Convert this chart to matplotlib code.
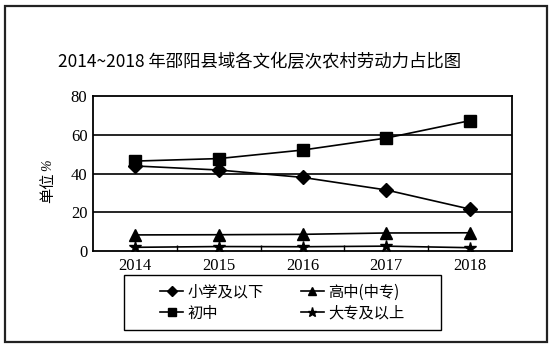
import matplotlib.pyplot as plt
from matplotlib.patches import Rectangle

plt.rcParams["font.family"] = ["Noto Sans CJK SC", "DejaVu Sans"]

years = ["2014", "2015", "2016", "2017", "2018"]
primary = [43.9, 41.8, 38.0, 31.5, 21.6]      # 小学及以下
junior = [46.4, 47.7, 52.1, 58.3, 67.3]       # 初中
senior = [8.3, 8.4, 8.6, 9.3, 9.4]            # 高中(中专)
college = [1.9, 2.3, 2.2, 2.5, 1.7]           # 大专及以上

series = [
    ("小学及以下", primary, "D", 7),
    ("初中", junior, "s", 8),
    ("高中(中专)", senior, "^", 8),
    ("大专及以上", college, "*", 9),
]

fig = plt.figure(figsize=(5.52, 3.47), dpi=100)
fig.patches.append(Rectangle((5 / 552, 1 - 342 / 347), 542 / 552, 336 / 347,
                             transform=fig.transFigure, fill=False,
                             edgecolor="#222222", lw=1.6))

ax = fig.add_axes([93 / 552, 1 - 251 / 347, 419 / 552, 155 / 347])
x = list(range(len(years)))
for label, vals, mk, ms in series:
    ax.plot(x, vals, color="black", lw=1.2, marker=mk, markersize=ms,
            markerfacecolor="black", markeredgecolor="black", label=label)

ax.set_xlim(-0.5, len(years) - 0.5)
ax.set_ylim(0, 80)
ax.set_yticks([0, 20, 40, 60, 80])
for yv in [20, 40, 60]:
    ax.axhline(yv, color="black", lw=1.2, zorder=0)
ax.set_xticks(x)
ax.set_xticklabels(years)
ax.set_xticks([i + 0.5 for i in x[:-1]], minor=True)
ax.tick_params(axis="x", which="major", length=0, pad=5)
ax.tick_params(axis="x", which="minor", direction="in", length=4, width=1)
ax.tick_params(axis="y", length=0, pad=4)
for lab in ax.get_xticklabels() + ax.get_yticklabels():
    lab.set_family("Liberation Serif")
    lab.set_fontsize(12)
for sp in ax.spines.values():
    sp.set_linewidth(1.3)

fig.text(260 / 552, 1 - 62 / 347, "2014~2018 年邵阳县域各文化层次农村劳动力占比图",
         ha="center", va="center", fontsize=12.5)
fig.text(48 / 552, 1 - 188 / 347, "单位", rotation=90,
         ha="center", va="center", fontsize=11)
fig.text(48 / 552, 1 - 165 / 347, "%", rotation=90, family="Liberation Serif",
         style="italic", ha="center", va="center", fontsize=10)

fig.patches.append(Rectangle((124 / 552, 1 - 330 / 347), 317 / 552, 55 / 347,
                             transform=fig.transFigure, fill=False,
                             edgecolor="black", lw=1.0))
fig.legend(loc="center", bbox_to_anchor=(282.5 / 552, 1 - 302.5 / 347),
           ncol=2, frameon=False, fontsize=11, handlelength=1.5,
           handletextpad=0.3, columnspacing=2.4, labelspacing=0.25,
           markerscale=0.75)

fig.savefig("out.png", dpi=100)
